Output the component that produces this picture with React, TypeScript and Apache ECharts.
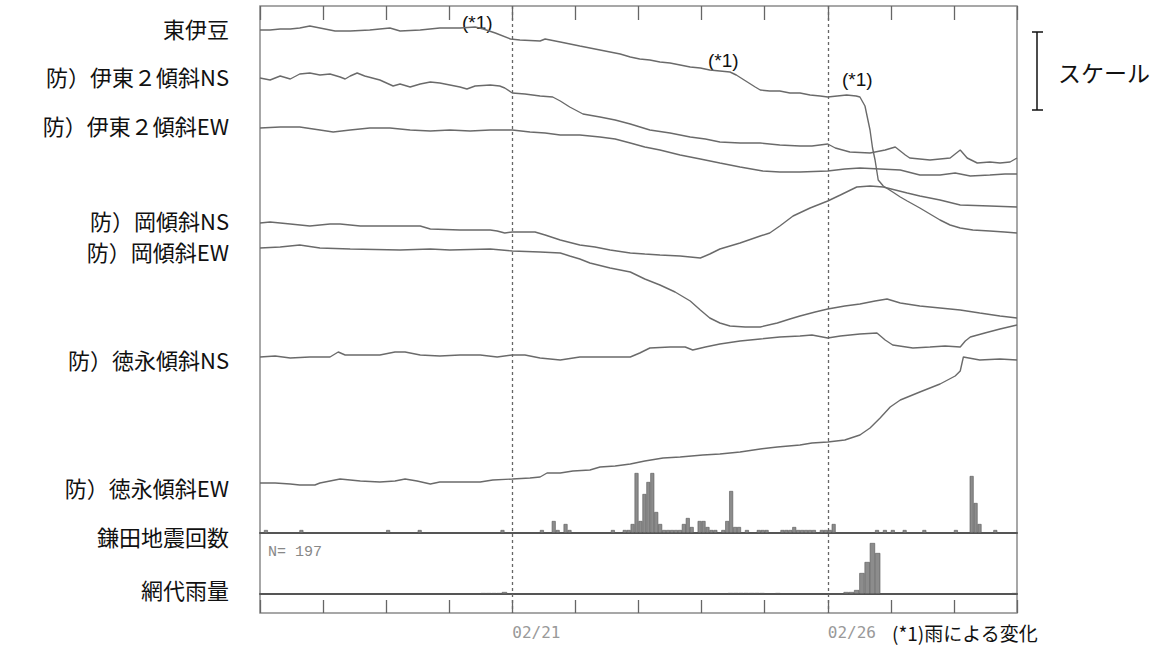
import React, { useEffect, useRef } from 'react';
import * as echarts from 'echarts';

// Time axis: days from the left edge of the record (02/17 00:00); 12 days shown.
const DATE_TICKS: [number, string][] = [[4, '02/21'], [9, '02/26']];
const EVENT_DAYS = [4, 9];

const TRACE_NAMES = [
  '東伊豆',
  '防）伊東２傾斜NS',
  '防）伊東２傾斜EW',
  '防）岡傾斜NS',
  '防）岡傾斜EW',
  '防）徳永傾斜NS',
  '防）徳永傾斜EW',
];
const PANEL_NAMES = ['鎌田地震回数', '網代雨量'];

// Trace levels (plot units, increasing downward) read from the record.
const HIGASHI_IZU: [number, number][] = [[0,30],[0.16,30],[0.32,29],[0.48,29],[0.63,28],[0.79,26],[0.95,28],[1.19,31],[1.43,31],[1.74,30],[2.06,28],[2.22,31],[2.54,30],[2.85,28],[3.17,28],[3.41,27],[3.54,29],[3.73,33],[3.97,39],[4.12,40],[4.44,41],[4.52,39],[4.76,42],[5.07,46],[5.39,50],[5.71,54],[5.87,57],[6.02,59],[6.18,60],[6.34,62],[6.5,63],[6.66,65],[6.82,67],[6.98,68],[7.13,70],[7.29,71],[7.45,72],[7.55,75],[7.7,81],[7.85,87],[7.93,90],[8.08,91],[8.24,91],[8.4,93],[8.56,93],[8.72,95],[8.88,96],[9,97],[9.15,96],[9.3,95],[9.45,96],[9.51,97],[9.59,106],[9.67,130],[9.71,148],[9.75,160],[9.8,180],[9.88,186],[10.03,192],[10.15,197],[10.26,201],[10.46,208],[10.62,214],[10.78,220],[10.94,225],[11.1,228],[11.3,230],[11.57,231],[11.8,232],[12,233]];
const ITO_NS: [number, number][] = [[0,78],[0.16,80],[0.32,76],[0.48,79],[0.63,74],[0.79,73],[0.95,75],[1.11,74],[1.27,77],[1.35,79],[1.43,76],[1.54,73],[1.66,76],[1.9,80],[2.11,86],[2.22,84],[2.38,87],[2.54,84],[2.7,82],[2.85,83],[3.01,85],[3.17,87],[3.28,89],[3.41,86],[3.65,85],[3.8,86],[3.88,88],[4,93],[4.2,94],[4.44,96],[4.64,97],[4.76,101],[4.91,107],[5.12,114],[5.39,117],[5.63,120],[5.87,124],[6.18,130],[6.5,133],[6.82,137],[7.06,139],[7.29,142],[7.61,143],[7.93,143],[8.24,145],[8.56,146],[8.75,146],[9,144],[9.12,148],[9.35,152],[9.67,153],[9.91,150],[10.07,147],[10.23,155],[10.3,158],[10.62,160],[10.94,158],[11.02,154],[11.1,150],[11.21,158],[11.37,163],[11.57,162],[11.73,163],[11.89,162],[12,158]];
const ITO_EW: [number, number][] = [[0,128],[0.32,127],[0.63,127],[0.95,130],[1.16,132],[1.43,130],[1.74,128],[2.06,128],[2.38,130],[2.7,131],[3.01,130],[3.33,131],[3.65,130],[4,130],[4.28,132],[4.52,133],[4.76,135],[5.07,135],[5.39,137],[5.63,139],[5.87,143],[6.1,147],[6.34,150],[6.66,155],[6.98,159],[7.29,163],[7.61,167],[7.97,171],[8.24,172],[8.56,172],[9,171],[9.27,169],[9.51,168],[9.83,169],[10.15,170],[10.46,175],[10.78,175],[11.02,173],[11.26,176],[11.57,175],[11.81,174],[12,174]];
const OKA_NS: [number, number][] = [[0,223],[0.16,222],[0.48,224],[0.79,226],[1.11,224],[1.27,224],[1.59,226],[2.22,226],[2.54,226],[2.7,229],[3.17,230],[3.65,230],[3.76,231],[3.88,233],[4,232],[4.36,232],[4.52,235],[4.76,240],[5.07,245],[5.31,247],[5.55,250],[5.87,253],[6.1,254],[6.34,255],[6.66,256],[6.98,258],[7.13,254],[7.29,249],[7.61,243],[7.93,236],[8.08,233],[8.24,226],[8.45,216],[8.72,208],[9,201],[9.2,195],[9.46,187],[9.67,186],[9.88,187],[10.07,190],[10.26,193],[10.46,196],[10.78,200],[11.1,205],[11.57,206],[12,207]];
const OKA_EW: [number, number][] = [[0,248],[0.32,247],[0.63,245],[0.95,248],[1.43,249],[2.22,250],[2.7,249],[3.01,250],[3.65,249],[4,251],[4.44,252],[4.76,253],[4.91,256],[5.07,259],[5.23,263],[5.55,268],[5.87,272],[6.1,279],[6.34,285],[6.58,292],[6.82,301],[6.98,310],[7.13,318],[7.29,323],[7.45,326],[7.69,327],[7.93,327],[8.2,323],[8.4,319],[8.56,316],[8.8,312],[9,309],[9.27,306],[9.51,304],[9.75,301],[9.94,299],[10.15,303],[10.46,306],[10.78,308],[11.1,310],[11.41,313],[11.73,316],[12,318]];
const TOKU_NS: [number, number][] = [[0,357],[0.24,356],[0.48,358],[0.79,357],[1.11,357],[1.24,352],[1.35,355],[1.59,355],[1.9,355],[2.14,352],[2.3,352],[2.54,355],[2.85,356],[3.17,355],[3.49,355],[3.76,357],[4,355],[4.2,355],[4.44,358],[4.76,360],[5.07,357],[5.39,357],[5.87,357],[6.02,353],[6.18,348],[6.5,347],[6.74,347],[6.86,350],[7.06,347],[7.29,344],[7.61,341],[7.93,339],[8.24,337],[8.56,336],[8.75,335],[9,338],[9.2,336],[9.51,334],[9.78,333],[9.91,340],[10.03,345],[10.35,348],[10.62,347],[10.86,346],[11.1,347],[11.18,341],[11.26,337],[11.49,333],[11.73,329],[12,325]];
const TOKU_EW: [number, number][] = [[0,483],[0.24,483],[0.48,484],[0.63,485],[0.87,485],[0.95,483],[1.11,481],[1.27,479],[1.59,481],[1.9,482],[2.14,481],[2.3,479],[2.49,481],[2.7,484],[2.85,482],[3.17,482],[3.49,482],[3.69,480],[4,479],[4.28,478],[4.44,477],[4.55,473],[4.76,473],[4.96,471],[5.23,470],[5.39,467],[5.63,466],[5.87,464],[6.1,461],[6.39,458],[6.66,457],[7.02,455],[7.29,454],[7.61,452],[7.93,449],[8.2,447],[8.56,445],[8.75,443],[9,442],[9.27,440],[9.51,435],[9.67,428],[9.83,418],[9.99,407],[10.15,400],[10.46,392],[10.78,384],[11.02,376],[11.1,371],[11.15,357],[11.41,360],[11.73,359],[12,360]];

const TRACES = [HIGASHI_IZU, ITO_NS, ITO_EW, OKA_NS, OKA_EW, TOKU_NS, TOKU_EW];

// Earthquake counts per 1.5-hour bin (192 bins), sparse [bin, count]
const EQ_BIN_COUNT = 192;
const EQ_COUNTS: [number, number][] = [[1,1],[10,1],[32,1],[40,1],[61,1],[71,1],[74,4],[75,1],[77,3],[78,1],[89,1],[92,1],[93,1],[94,3],[95,20],[96,4],[97,13],[98,17],[99,20],[100,7],[101,3],[102,1],[103,1],[104,1],[105,1],[106,1],[107,3],[108,5],[109,2],[111,4],[112,4],[113,2],[114,1],[115,1],[117,1],[118,4],[119,14],[120,2],[121,2],[123,1],[126,1],[127,1],[128,1],[132,1],[133,1],[134,1],[135,2],[136,1],[137,1],[138,1],[139,1],[140,1],[142,1],[143,1],[144,1],[145,3],[156,1],[158,1],[160,1],[163,1],[168,1],[176,1],[180,19],[181,10],[182,3],[186,1]];
const EQ_TOTAL = 197;

// Rainfall (mm) per 2-hour bin (144 bins), sparse [bin, mm]
const RAIN_BIN_COUNT = 144;
const RAIN_MM: [number, number][] = [[42,0.5],[43,0.5],[44,0.5],[45,0.5],[46,1],[89,0.5],[90,0.5],[91,0.5],[92,0.5],[93,0.5],[94,0.5],[95,0.5],[98,0.5],[111,1],[112,1],[113,2],[114,10.5],[115,16],[116,25.5],[117,20.5],[143,0.5]];

const NOTE_MARK = '(*1)';
const FOOTNOTE = '(*1)雨による変化';
const SCALE_TEXT = 'スケール';

// Layout (pixels)
const LABEL_Y = [28, 76, 125, 220, 251, 359, 487, 536, 589];
const NOTE_POS: [number, number][] = [[462, 22], [708, 60], [842, 79]];

function expand(sparse: [number, number][], n: number) {
  const arr: (number | null)[] = new Array(n).fill(null);
  sparse.forEach(([i, v]) => { arr[i] = v; });
  return arr;
}

const JP = '"Noto Sans CJK JP", "Noto Sans", sans-serif';

export default function App() {
  const ref = useRef<HTMLDivElement>(null);
  useEffect(() => {
    if (!ref.current) return;
    const chart = echarts.init(ref.current, null, { renderer: 'svg' });
    const L = 260, T = 6, W = 757, H = 607;
    const eqCats = Array.from({ length: EQ_BIN_COUNT }, (_, i) => String(i));
    const rainCats = Array.from({ length: RAIN_BIN_COUNT }, (_, i) => String(i));
    const tickLabel = (v: number) => {
      const f = DATE_TICKS.find(d => d[0] === v);
      return f ? f[1] : '';
    };
    const labels = [...TRACE_NAMES, ...PANEL_NAMES];
    const graphic: any[] = labels.map((t, i) => ({
      type: 'text', x: 229, y: LABEL_Y[i], silent: true,
      style: { text: t, fontSize: 22, lineHeight: 24, fontFamily: JP, fill: '#111', align: 'right', verticalAlign: 'middle' },
    }));
    NOTE_POS.forEach(([x, y]) => graphic.push({
      type: 'text', x, y, silent: true,
      style: { text: NOTE_MARK, fontSize: 19, fontFamily: '"Liberation Sans", Arial, sans-serif', fill: '#111', align: 'left', verticalAlign: 'middle' },
    }));
    graphic.push({
      type: 'text', x: 892, y: 632, silent: true,
      style: { text: FOOTNOTE, fontSize: 19, lineHeight: 22, fontFamily: JP, fill: '#111', align: 'left', verticalAlign: 'middle' },
    });
    graphic.push({
      type: 'text', x: 1058, y: 72, silent: true,
      style: { text: SCALE_TEXT, fontSize: 23, fontFamily: JP, fill: '#111', align: 'left', verticalAlign: 'middle' },
    });
    graphic.push({
      type: 'text', x: 268, y: 552, silent: true,
      style: { text: 'N= ' + EQ_TOTAL, fontSize: 15, fontFamily: '"Liberation Mono", monospace', fill: '#888', align: 'left', verticalAlign: 'middle' },
    });
    const sb = { stroke: '#111', lineWidth: 1.5 };
    graphic.push({ type: 'line', silent: true, shape: { x1: 1037, y1: 32, x2: 1037, y2: 110 }, style: sb });
    graphic.push({ type: 'line', silent: true, shape: { x1: 1032, y1: 32, x2: 1043, y2: 32 }, style: sb });
    graphic.push({ type: 'line', silent: true, shape: { x1: 1032, y1: 110, x2: 1043, y2: 110 }, style: sb });

    const lineSeries = TRACES.map((d, i) => ({
      type: 'line', name: TRACE_NAMES[i], xAxisIndex: 0, yAxisIndex: 0, data: d,
      showSymbol: false, silent: true,
      lineStyle: { color: '#6a6a6a', width: 1.4 },
      ...(i === 0 ? {
        markLine: {
          silent: true, symbol: 'none', label: { show: false },
          lineStyle: { color: '#666', width: 1.3, type: [3, 3] },
          data: EVENT_DAYS.map(x => ({ xAxis: x })),
        },
      } : {}),
    }));

    chart.setOption({
      animation: false,
      backgroundColor: '#fff',
      grid: [
        { left: L, top: T, width: W, height: H, show: true, borderColor: '#8a8a8a', borderWidth: 1.5 },
        { left: L, top: 467, width: W, height: 66 },
        { left: L, top: 533, width: W, height: 61 },
      ],
      xAxis: [
        {
          gridIndex: 0, type: 'value', min: 0, max: 12, interval: 1, position: 'bottom',
          axisLine: { show: false, onZero: false },
          axisTick: { show: true, inside: true, length: 13, lineStyle: { color: '#666', width: 1.3 } },
          splitLine: { show: false },
          axisLabel: { formatter: tickLabel, align: 'left', margin: 11, fontFamily: '"DejaVu Sans Mono", monospace', fontSize: 16, color: '#999' },
        },
        {
          gridIndex: 0, type: 'value', min: 0, max: 12, interval: 1, position: 'top',
          axisLine: { show: false, onZero: false },
          axisTick: { show: true, inside: true, length: 14, lineStyle: { color: '#666', width: 1.3 } },
          splitLine: { show: false }, axisLabel: { show: false },
        },
        {
          gridIndex: 1, type: 'category', data: eqCats, boundaryGap: true,
          axisLine: { show: true, lineStyle: { color: '#555', width: 2 } },
          axisTick: { show: false }, axisLabel: { show: false }, splitLine: { show: false },
        },
        {
          gridIndex: 2, type: 'category', data: rainCats, boundaryGap: true,
          axisLine: { show: true, lineStyle: { color: '#555', width: 2 } },
          axisTick: { show: false }, axisLabel: { show: false }, splitLine: { show: false },
        },
      ],
      yAxis: [
        { gridIndex: 0, type: 'value', min: 6, max: 613, inverse: true, show: false },
        { gridIndex: 1, type: 'value', min: 0, max: 22, show: false },
        { gridIndex: 2, type: 'value', min: 0, max: 30.5, show: false },
      ],
      series: [
        ...lineSeries,
        {
          type: 'bar', name: PANEL_NAMES[0], xAxisIndex: 2, yAxisIndex: 1, silent: true,
          data: expand(EQ_COUNTS, EQ_BIN_COUNT), barCategoryGap: '0%',
          itemStyle: { color: '#8c8c8c', borderColor: '#555', borderWidth: 0.6 },
        },
        {
          type: 'bar', name: PANEL_NAMES[1], xAxisIndex: 3, yAxisIndex: 2, silent: true,
          data: expand(RAIN_MM, RAIN_BIN_COUNT), barCategoryGap: '0%',
          itemStyle: { color: '#8c8c8c', borderColor: '#555', borderWidth: 0.6 },
        },
      ],
      graphic,
    });
    return () => chart.dispose();
  }, []);
  return <div ref={ref} style={{ position: 'absolute', left: 0, top: 0, width: 1160, height: 647 }} />;
}
